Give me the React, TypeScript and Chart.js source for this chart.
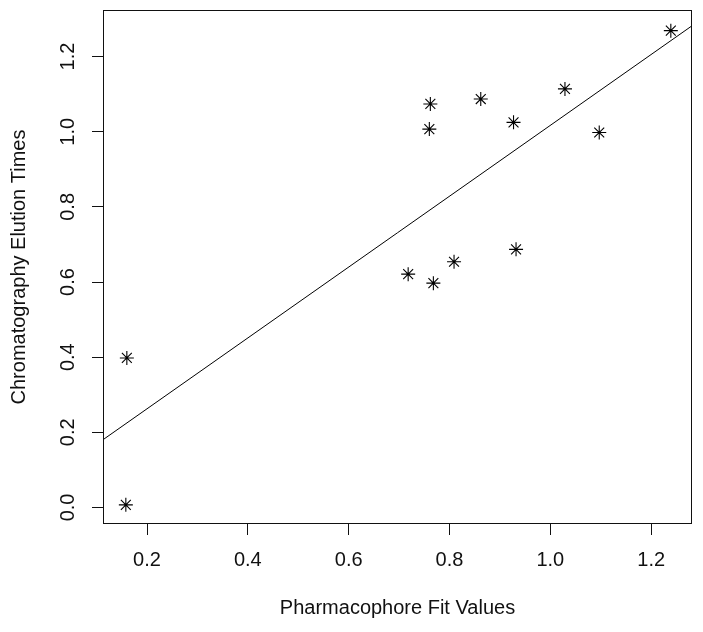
import React, { useEffect, useRef } from "react";
import { Chart, registerables } from "chart.js";

Chart.register(...registerables);

// Data
const xValues = [0.160, 0.158, 0.718, 0.768, 0.809, 0.932, 0.762, 0.760, 0.862, 0.927, 1.029, 1.097, 1.239];
const yValues = [0.398, 0.007, 0.621, 0.597, 0.654, 0.687, 1.074, 1.007, 1.087, 1.025, 1.114, 0.998, 1.269];
const xTicks = [0.2, 0.4, 0.6, 0.8, 1.0, 1.2];
const yTicks = [0.0, 0.2, 0.4, 0.6, 0.8, 1.0, 1.2];
const xLimits = [0.1127, 1.281];
const yLimits = [-0.044, 1.324];
const fitIntercept = 0.074;
const fitSlope = 0.943;
const xTitle = "Pharmacophore Fit Values";
const yTitle = "Chromatography Elution Times";

const FONT = "'Liberation Sans', Arial, sans-serif";

const boxPlugin = {
  id: "rbox",
  afterDatasetsDraw(chart: any) {
    const { ctx, chartArea } = chart;
    const { left, top, right, bottom } = chartArea;
    ctx.save();
    ctx.strokeStyle = "#111";
    ctx.lineWidth = 1;
    ctx.strokeRect(left + 0.5, top + 0.5, right - left - 1, bottom - top - 1);
    ctx.restore();
  },
};

export default function App() {
  const ref = useRef<HTMLCanvasElement | null>(null);

  useEffect(() => {
    if (!ref.current) return;
    const points = xValues.map((x, i) => ({ x, y: yValues[i] }));
    const fitLine = xLimits.map((x) => ({ x, y: fitIntercept + fitSlope * x }));

    const chart = new Chart(ref.current, {
      type: "scatter",
      data: {
        datasets: [
          {
            data: points,
            pointStyle: "star",
            pointRadius: 7,
            pointBorderWidth: 1.1,
            pointBorderColor: "#000",
            pointBackgroundColor: "#000",
            showLine: false,
          } as any,
          {
            type: "line",
            data: fitLine,
            borderColor: "#000",
            borderWidth: 1,
            pointRadius: 0,
            fill: false,
            tension: 0,
          } as any,
        ],
      },
      plugins: [boxPlugin],
      options: {
        responsive: false,
        animation: false,
        devicePixelRatio: 1,
        layout: { padding: { top: 10, right: 11, left: 0, bottom: 0 } },
        plugins: {
          legend: { display: false },
          tooltip: { enabled: false },
          title: { display: false },
        },
        scales: {
          x: {
            type: "linear",
            position: "bottom",
            min: xLimits[0],
            max: xLimits[1],
            afterBuildTicks: (scale: any) => {
              scale.ticks = xTicks.map((v) => ({ value: v }));
            },
            afterFit: (scale: any) => {
              scale.height = 108;
              scale.paddingLeft = 0;
              scale.paddingRight = 0;
            },
            grid: {
              drawOnChartArea: false,
              drawTicks: true,
              tickLength: 11,
              color: "#111",
              lineWidth: 1,
            },
            border: { display: false },
            ticks: {
              autoSkip: false,
              maxRotation: 0,
              minRotation: 0,
              padding: 13,
              color: "#111",
              font: { family: FONT, size: 20 },
              callback: (v: any) => Number(v).toFixed(1),
            },
            title: {
              display: true,
              text: xTitle,
              color: "#111",
              font: { family: FONT, size: 20 },
              padding: { top: 0, bottom: 12 },
            },
          },
          y: {
            type: "linear",
            position: "left",
            min: yLimits[0],
            max: yLimits[1],
            afterBuildTicks: (scale: any) => {
              scale.ticks = yTicks.map((v) => ({ value: v }));
            },
            afterFit: (scale: any) => {
              scale.width = 103;
              scale.paddingTop = 0;
              scale.paddingBottom = 0;
            },
            grid: {
              drawOnChartArea: false,
              drawTicks: true,
              tickLength: 11,
              color: "#111",
              lineWidth: 1,
            },
            border: { display: false },
            ticks: {
              autoSkip: false,
              minRotation: 90,
              maxRotation: 90,
              crossAlign: "center",
              padding: 10,
              color: "#111",
              font: { family: FONT, size: 20 },
              callback: (v: any) => Number(v).toFixed(1),
            },
            title: {
              display: true,
              text: yTitle,
              color: "#111",
              font: { family: FONT, size: 20 },
              padding: { top: 7, bottom: 0 },
            },
          },
        },
      } as any,
    });

    return () => chart.destroy();
  }, []);

  return (
    <div style={{ position: "fixed", left: 0, top: 0, width: 703, height: 632, background: "#fff" }}>
      <canvas ref={ref} width={703} height={632} style={{ display: "block" }} />
    </div>
  );
}
